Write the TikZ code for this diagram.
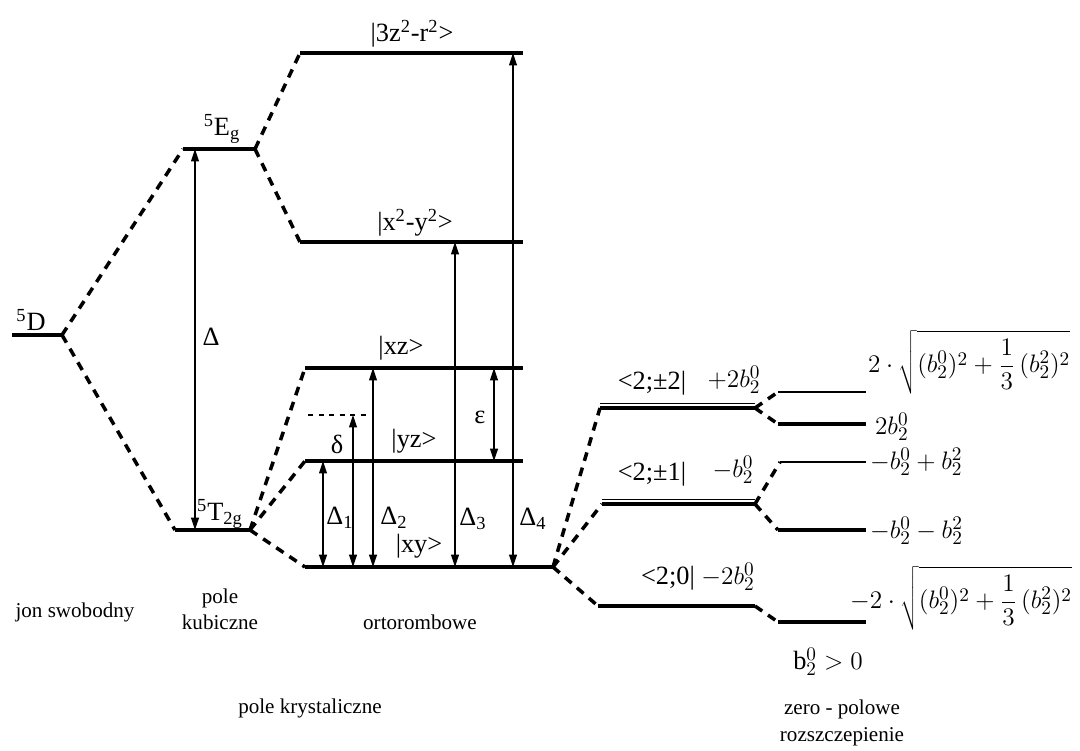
\documentclass[tikz,border=0pt]{standalone}
\usepackage{fontspec}
\setmainfont{Liberation Serif}
\usetikzlibrary{arrows.meta}

\tikzset{
  level/.style={line width=2pt},
  thinlevel/.style={line width=0.6pt},
  conn/.style={line width=2pt, dash pattern=on 5pt off 4pt},
  gap/.style={line width=0.6pt, {Triangle[length=7pt,width=4.5pt]}-{Triangle[length=7pt,width=4.5pt]}},
  state/.style={font=\fontsize{15}{17}\selectfont, inner sep=1pt},
  note/.style={font=\fontsize{12}{15}\selectfont, align=center, inner sep=1pt},
  coef/.style={font=\fontsize{15}{17}\selectfont, inner sep=1pt},
}

\begin{document}
\begin{tikzpicture}[x=0.02cm, y=-0.02cm]
	\useasboundingbox (0,0) rectangle (1080,751);

	% Level ends
	\coordinate (D-l) at (12,335);   \coordinate (D-r) at (62,335);
	\coordinate (Eg-l) at (183,149); \coordinate (Eg-r) at (255,149);
	\coordinate (T2g-l) at (175,530); \coordinate (T2g-r) at (250,530);
	\coordinate (zz-l) at (300,53);  \coordinate (zz-r) at (523,53);
	\coordinate (xx-l) at (300,242); \coordinate (xx-r) at (523,242);
	\coordinate (xz-l) at (305,368); \coordinate (xz-r) at (523,368);
	\coordinate (yz-l) at (305,461); \coordinate (yz-r) at (523,461);
	\coordinate (xy-l) at (305,567); \coordinate (xy-r) at (553,567);
	\coordinate (pm2-l) at (600,408); \coordinate (pm2-r) at (755,408);
	\coordinate (pm1-l) at (602,504); \coordinate (pm1-r) at (755,504);
	\coordinate (m0-l) at (598,606);  \coordinate (m0-r) at (755,606);
	\coordinate (sa-l) at (778,392);  \coordinate (sa-r) at (866,392);
	\coordinate (sb-l) at (778,424);  \coordinate (sb-r) at (866,424);
	\coordinate (sc-l) at (780,462);  \coordinate (sc-r) at (866,462);
	\coordinate (sd-l) at (778,530);  \coordinate (sd-r) at (866,530);
	\coordinate (se-l) at (778,622);  \coordinate (se-r) at (866,622);
	\coordinate (dl-l) at (308,415);  \coordinate (dl-r) at (370,415);

	% Levels
	\draw[level] (D-l) -- (D-r);
	\draw[level] (Eg-l) -- (Eg-r);
	\draw[level] (T2g-l) -- (T2g-r);
	\draw[level] (zz-l) -- (zz-r);
	\draw[level] (xx-l) -- (xx-r);
	\draw[level] (xz-l) -- (xz-r);
	\draw[level] (yz-l) -- (yz-r);
	\draw[level] (xy-l) -- (xy-r);
	\draw[level] (pm2-l) -- (pm2-r);
	\draw[thinlevel] ([yshift=2.6pt]pm2-l) -- ([yshift=2.6pt]pm2-r);
	\draw[level] (pm1-l) -- (pm1-r);
	\draw[thinlevel] ([yshift=2.6pt]pm1-l) -- ([yshift=2.6pt]pm1-r);
	\draw[level] (m0-l) -- (m0-r);
	\draw[thinlevel] (sa-l) -- (sa-r);
	\draw[level] (sb-l) -- (sb-r);
	\draw[thinlevel] (sc-l) -- (sc-r);
	\draw[level] (sd-l) -- (sd-r);
	\draw[level] (se-l) -- (se-r);
	\draw[thinlevel, dashed] (dl-l) -- (dl-r);

	% Splitting
	\draw[conn] (D-r) -- (Eg-l);
	\draw[conn] (D-r) -- (T2g-l);
	\draw[conn] (Eg-r) -- (zz-l);
	\draw[conn] (Eg-r) -- (xx-l);
	\draw[conn] (T2g-r) -- (xz-l);
	\draw[conn] (T2g-r) -- (yz-l);
	\draw[conn] (T2g-r) -- (xy-l);
	\draw[conn] (xy-r) -- (pm2-l);
	\draw[conn] (xy-r) -- (pm1-l);
	\draw[conn] (xy-r) -- (m0-l);
	\draw[conn] (pm2-r) -- (sa-l);
	\draw[conn] (pm2-r) -- (sb-l);
	\draw[conn] (pm1-r) -- (sc-l);
	\draw[conn] (pm1-r) -- (sd-l);
	\draw[conn] (m0-r) -- (se-l);

	% Gaps
	\coordinate (g0) at (195,0);
	\coordinate (g1) at (323,0);
	\coordinate (gd) at (353,0);
	\coordinate (g2) at (373,0);
	\coordinate (g3) at (455,0);
	\coordinate (ge) at (494,0);
	\coordinate (g4) at (513,0);
	\draw[gap] (Eg-l -| g0) -- (T2g-l -| g0);
	\draw[gap] (yz-l -| g1) -- (xy-l -| g1);
	\draw[gap] (dl-l -| gd) -- (xy-l -| gd);
	\draw[gap] (xz-l -| g2) -- (xy-l -| g2);
	\draw[gap] (xx-l -| g3) -- (xy-l -| g3);
	\draw[gap] (xz-l -| ge) -- (yz-l -| ge);
	\draw[gap] (zz-l -| g4) -- (xy-l -| g4);

	% Labels
	\node[state] (lD) at (31,320) {\textsuperscript{5}D};
	\node[state] (lEg) at (222,129) {\textsuperscript{5}E\textsubscript{g}};
	\node[state] (lT2g) at (220,514) {\textsuperscript{5}T\textsubscript{2g}};
	\node[state] (lzz) at (412,34) {|3z\textsuperscript{2}-r\textsuperscript{2}>};
	\node[state] (lxx) at (415,223) {|x\textsuperscript{2}-y\textsuperscript{2}>};
	\node[state] (lxz) at (401,348) {|xz>};
	\node[state] (lyz) at (414,441) {|yz>};
	\node[state] (lxy) at (419,546) {|xy>};
	\node[state] (lD0) at (211,337) {Δ};
	\node[state] (lD1) at (340,518) {Δ\textsubscript{1}};
	\node[state] (lD2) at (394,518) {Δ\textsubscript{2}};
	\node[state] (lD3) at (473,519) {Δ\textsubscript{3}};
	\node[state] (lD4) at (533,519) {Δ\textsubscript{4}};
	\node[state] (ldel) at (337,444) {δ};
	\node[state] (leps) at (480,417) {ε};
	\node[state] (lpm2) at (652,383) {<2;±2|};
	\node[state] (lpm1) at (652,474) {<2;±1|};
	\node[state] (lm0) at (668,578) {<2;0|};
	\node[coef] (cpm2) at (734,380) {$+2b_2^0$};
	\node[coef] (cpm1) at (733,470) {$-b_2^0$};
	\node[coef] (cm0) at (728,577) {$-2b_2^0$};
	\node[coef, anchor=west] (ca) at (866,362) {$\displaystyle 2\cdot\sqrt{(b_2^0)^2+\frac{1}{3}\,(b_2^2)^2}$};
	\node[coef, anchor=west] (cb) at (873,427) {$2b_2^0$};
	\node[coef, anchor=west] (cc) at (868,462) {$-b_2^0+b_2^2$};
	\node[coef, anchor=west] (cd) at (868,531) {$-b_2^0-b_2^2$};
	\node[coef, anchor=west] (ce) at (848,598) {$\displaystyle -2\cdot\sqrt{(b_2^0)^2+\frac{1}{3}\,(b_2^2)^2}$};
	\node[coef] (cond) at (828,662) {$\mathrm{b}_2^0>0$};

	% Stages
	\node[note] (n1) at (75,612) {jon swobodny};
	\node[note] (n2) at (220,609) {pole\\kubiczne};
	\node[note] (n3) at (420,622) {ortorombowe};
	\node[note] (n4) at (310,708) {pole krystaliczne};
	\node[note] (n5) at (842,723) {zero - polowe\\rozszczepienie};
\end{tikzpicture}
\end{document}
